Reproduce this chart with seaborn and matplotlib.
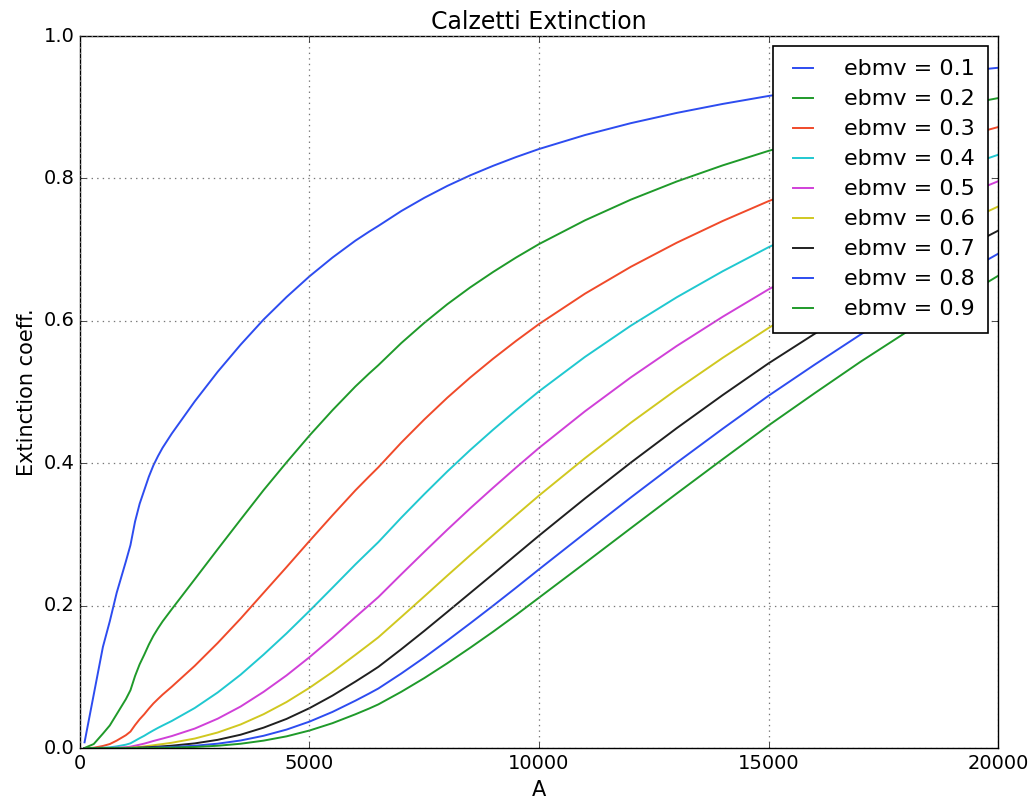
import numpy as np
import pandas as pd
import seaborn as sns
import matplotlib
matplotlib.use("Agg")
import matplotlib.pyplot as plt

# wavelength grid (Angstrom)
wave = [100, 300, 500, 650, 800, 1000, 1100, 1200, 1300, 1400, 1500, 1600, 1700,
        1800, 2000, 2500, 3000, 3500, 4000, 4500, 5000, 5500, 6000, 6300, 6500,
        7000, 7500, 8000, 8500, 9000, 9500, 10000, 11000, 12000, 13000, 14000,
        15000, 16000, 17000, 18000, 19000, 20000]

# extinction coefficient for each ebmv value
ebmv_01 = [0.008, 0.075, 0.142, 0.178, 0.218, 0.262, 0.285, 0.318, 0.343, 0.362,
           0.381, 0.397, 0.410, 0.4217, 0.4416, 0.4868, 0.5284, 0.5665, 0.6018,
           0.6334, 0.6625, 0.6888, 0.7126, 0.7253, 0.7333, 0.7542, 0.7727, 0.7894,
           0.8043, 0.8177, 0.8300, 0.8413, 0.8609, 0.8776, 0.8920, 0.9046, 0.9158,
           0.9255, 0.9343, 0.9420, 0.9490, 0.9554]
ebmv_02 = [0.0001, 0.0056, 0.0202, 0.0317, 0.0475, 0.0686, 0.0812, 0.1011, 0.1176,
           0.1310, 0.1452, 0.1576, 0.1681, 0.1778, 0.1950, 0.2370, 0.2792, 0.3209,
           0.3622, 0.4012, 0.4389, 0.4744, 0.5078, 0.5261, 0.5377, 0.5688, 0.5971,
           0.6232, 0.6469, 0.6686, 0.6889, 0.7078, 0.7411, 0.7702, 0.7957, 0.8183,
           0.8387, 0.8566, 0.8729, 0.8874, 0.9006, 0.9128]
ebmv_03 = [0.0, 0.0004, 0.0029, 0.0056, 0.0104, 0.0180, 0.0231, 0.0322, 0.0404,
           0.0474, 0.0553, 0.0626, 0.0689, 0.0750, 0.0861, 0.1154, 0.1475, 0.1818,
           0.2180, 0.2541, 0.2908, 0.3268, 0.3619, 0.3815, 0.3943, 0.4290, 0.4614,
           0.4919, 0.5203, 0.5468, 0.5718, 0.5955, 0.6381, 0.6759, 0.7097, 0.7402,
           0.7681, 0.7927, 0.8156, 0.8359, 0.8547, 0.8721]
ebmv_04 = [0.0, 0.0, 0.0004, 0.0010, 0.0023, 0.0047, 0.0066, 0.0102, 0.0138,
           0.0172, 0.0211, 0.0248, 0.0283, 0.0316, 0.0380, 0.0562, 0.0780, 0.1030,
           0.1312, 0.1610, 0.1926, 0.2251, 0.2579, 0.2767, 0.2892, 0.3236, 0.3565,
           0.3883, 0.4185, 0.4471, 0.4746, 0.5010, 0.5493, 0.5932, 0.6331, 0.6696,
           0.7034, 0.7337, 0.7620, 0.7874, 0.8111, 0.8332]
ebmv_05 = [0.0, 0.0, 0.0001, 0.0002, 0.0005, 0.0012, 0.0019, 0.0033, 0.0047,
           0.0062, 0.0080, 0.0099, 0.0116, 0.0133, 0.0168, 0.0273, 0.0412, 0.0583,
           0.0789, 0.1020, 0.1276, 0.1550, 0.1838, 0.2007, 0.2120, 0.2440, 0.2755,
           0.3065, 0.3366, 0.3656, 0.3939, 0.4215, 0.4729, 0.5206, 0.5647, 0.6057,
           0.6442, 0.6790, 0.7119, 0.7418, 0.7697, 0.7960]
ebmv_06 = [0.0, 0.0, 0.0, 0.0, 0.0001, 0.0003, 0.0005, 0.0010, 0.0016,
           0.0023, 0.0031, 0.0039, 0.0048, 0.0056, 0.0074, 0.0133, 0.0218, 0.0331,
           0.0475, 0.0646, 0.0846, 0.1068, 0.1309, 0.1456, 0.1555, 0.1841, 0.2129,
           0.2420, 0.2707, 0.2989, 0.3270, 0.3546, 0.4071, 0.4569, 0.5037, 0.5480,
           0.5900, 0.6284, 0.6651, 0.6988, 0.7305, 0.7605]
ebmv_07 = [0.0, 0.0, 0.0, 0.0, 0.0, 0.0001, 0.0002, 0.0003, 0.0006,
           0.0008, 0.0012, 0.0016, 0.0019, 0.0024, 0.0033, 0.0065, 0.0115, 0.0187,
           0.0286, 0.0409, 0.0560, 0.0736, 0.0933, 0.1056, 0.1140, 0.1388, 0.1645,
           0.1910, 0.2177, 0.2444, 0.2714, 0.2983, 0.3505, 0.4009, 0.4493, 0.4957,
           0.5403, 0.5816, 0.6214, 0.6582, 0.6932, 0.7266]
ebmv_08 = [0.0, 0.0, 0.0, 0.0, 0.0, 0.0, 0.0, 0.0001, 0.0002,
           0.0003, 0.0004, 0.0006, 0.0008, 0.0010, 0.0015, 0.0032, 0.0061, 0.0106,
           0.0172, 0.0259, 0.0371, 0.0507, 0.0665, 0.0766, 0.0836, 0.1047, 0.1271,
           0.1508, 0.1751, 0.1999, 0.2252, 0.2510, 0.3017, 0.3519, 0.4008, 0.4484,
           0.4948, 0.5383, 0.5806, 0.6201, 0.6579, 0.6942]
ebmv_09 = [0.0, 0.0, 0.0, 0.0, 0.0, 0.0, 0.0, 0.0, 0.0001,
           0.0001, 0.0002, 0.0002, 0.0003, 0.0004, 0.0006, 0.0015, 0.0032, 0.0060,
           0.0104, 0.0164, 0.0246, 0.0349, 0.0474, 0.0555, 0.0613, 0.0790, 0.0982,
           0.1190, 0.1408, 0.1634, 0.1869, 0.2112, 0.2598, 0.3088, 0.3575, 0.4056,
           0.4531, 0.4982, 0.5424, 0.5841, 0.6243, 0.6632]

labels = ["ebmv = 0.1", "ebmv = 0.2", "ebmv = 0.3", "ebmv = 0.4", "ebmv = 0.5",
          "ebmv = 0.6", "ebmv = 0.7", "ebmv = 0.8", "ebmv = 0.9"]
series = [ebmv_01, ebmv_02, ebmv_03, ebmv_04, ebmv_05, ebmv_06, ebmv_07, ebmv_08, ebmv_09]
colors = ["#2d4cf0", "#1f9a2a", "#f04a2a", "#20c8d0", "#d040d8",
          "#d0c820", "#202020", "#2d4cf0", "#1f9a2a"]

plt.style.use("classic")
plt.rcParams["font.family"] = "DejaVu Sans"

fig = plt.figure(figsize=(10.29, 8.02), dpi=100, facecolor="white")
ax = fig.add_axes([0.0777, 0.0673, 0.8923, 0.8878])

for vals, lab, col in zip(series, labels, colors):
    sns.lineplot(x=wave, y=vals, color=col, label=lab, linewidth=1.4, ax=ax)

ax.set_xlim(0, 20000)
ax.set_ylim(0, 1.0)
ax.set_xticks([0, 5000, 10000, 15000, 20000])
ax.set_yticks([0.0, 0.2, 0.4, 0.6, 0.8, 1.0])
ax.tick_params(labelsize=14)
ax.grid(True, color="#777777", linestyle=":", linewidth=0.9)
ax.set_title("Calzetti Extinction", fontsize=17)
ax.set_xlabel("A", fontsize=15)
ax.set_ylabel("Extinction coeff.", fontsize=15)

leg = ax.legend(loc="upper right", fontsize=16, fancybox=False, framealpha=1,
                handlelength=1.5, handletextpad=1.1, labelspacing=0.45,
                borderaxespad=0.45, borderpad=0.6)
leg.get_frame().set_edgecolor("black")
leg.get_frame().set_linewidth(1.2)

fig.savefig("out.png", dpi=100, facecolor="white")
